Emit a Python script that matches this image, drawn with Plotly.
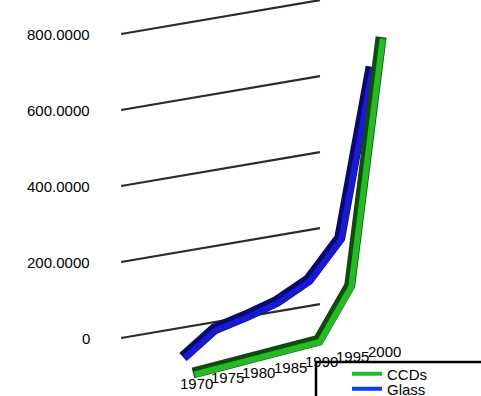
import plotly.graph_objects as go

# ---- data -------------------------------------------------------------
years = [1970, 1975, 1980, 1985, 1990, 1995, 2000]
year_labels = ["1970", "1975", "1980", "1985", "1990", "1995", "2000"]
ccds = [0, 8, 15, 22, 30, 160, 800]
glass = [0, 60, 80, 105, 147, 243, 680]
grid_values = [0, 200, 400, 600, 800]
grid_labels = ["0", "200.0000", "400.0000", "600.0000", "800.0000"]

# ---- oblique 3-D projection onto a year/value plane -------------------
PX_PER_YEAR = 6.27
PX_PER_UNIT = 0.38
YEAR_RISE = 1.066 / PX_PER_UNIT        # value units the floor rises per year
DEPTH_DX = -10 / PX_PER_YEAR           # shift per row of depth (years)
DEPTH_DY = 16 / PX_PER_UNIT            # shift per row of depth (value units)
WALL_DEPTH = 2.67
WALL_SPAN = (1962.8, 1994.5)
BASE_YEAR = 1970


def project(year, value, depth):
    x = year + depth * DEPTH_DX
    y = value + (year - BASE_YEAR) * YEAR_RISE + depth * DEPTH_DY
    return x, y


FONT = "Liberation Sans, Arial, sans-serif"
fig = go.Figure()

# back wall grid lines
gx, gy = [], []
for v in grid_values:
    for yr in WALL_SPAN:
        px, py = project(yr, v, WALL_DEPTH)
        gx.append(px)
        gy.append(py)
    gx.append(None)
    gy.append(None)
fig.add_trace(go.Scatter(x=gx, y=gy, mode="lines", showlegend=False,
                         line=dict(color="#2b2b2b", width=2.2),
                         hoverinfo="skip"))


def add_tube(values, depth, dark, light, legend_color, name, legend_id):
    pts = [project(yr, v, depth) for yr, v in zip(years, values)]
    xs = [p[0] for p in pts]
    ys = [p[1] for p in pts]
    fig.add_trace(go.Scatter(x=xs, y=ys, mode="lines", showlegend=False,
                             line=dict(color=dark, width=11),
                             hoverinfo="skip"))
    # lit side of the tube, nudged toward the lower right
    fig.add_trace(go.Scatter(x=[x + 0.25 for x in xs],
                             y=[y - 4.0 for y in ys],
                             mode="lines", showlegend=False,
                             line=dict(color=light, width=6),
                             hoverinfo="skip"))
    # legend entry
    fig.add_trace(go.Scatter(x=[None], y=[None], mode="lines", name=name,
                             legend=legend_id,
                             line=dict(color=legend_color, width=4)))


add_tube(glass, 1, "#0a0a6e", "#1a1ad2", "#0a3cff", "Glass", "legend2")
add_tube(ccds, 0, "#0f4a0f", "#24bb24", "#1fbf1f", "CCDs", "legend")

# year labels along the front floor edge
annotations = []
for yr, lab in zip(years, year_labels):
    px, py = project(yr, 0, 0)
    annotations.append(dict(x=px, y=py, text=lab, showarrow=False,
                            xanchor="center", yanchor="middle",
                            xshift=3, yshift=-10,
                            font=dict(family=FONT, size=15, color="black")))

# value labels at the left end of each wall line
for v, lab in zip(grid_values, grid_labels):
    px, py = project(WALL_SPAN[0], v, WALL_DEPTH)
    annotations.append(dict(x=px, y=py, text=lab, showarrow=False,
                            xanchor="right", yanchor="middle",
                            xshift=-29, yshift=-1,
                            font=dict(family=FONT, size=15, color="black")))

W, H = 481, 396
x_lo = BASE_YEAR - 193 / PX_PER_YEAR
x_hi = BASE_YEAR + (W - 193) / PX_PER_YEAR
y_lo = (373 - H) / PX_PER_UNIT
y_hi = 373 / PX_PER_UNIT

legend_style = dict(bgcolor="rgba(0,0,0,0)", borderwidth=0,
                    font=dict(family=FONT, size=15, color="black"),
                    xanchor="left", yanchor="middle", itemwidth=30)

fig.update_layout(
    width=W, height=H,
    margin=dict(l=0, r=0, t=0, b=0, autoexpand=False),
    paper_bgcolor="white", plot_bgcolor="white",
    xaxis=dict(range=[x_lo, x_hi], visible=False, fixedrange=True),
    yaxis=dict(range=[y_lo, y_hi], visible=False, fixedrange=True),
    annotations=annotations,
    showlegend=True,
    legend=dict(x=347 / W, y=1 - 374 / H, **legend_style),
    legend2=dict(x=347 / W, y=1 - 389 / H, **legend_style),
    shapes=[dict(type="rect", xref="paper", yref="paper",
                 x0=316 / W, x1=1.2, y0=-0.2, y1=1 - 362 / H,
                 line=dict(color="black", width=2.5),
                 fillcolor="white", layer="above")],
)

fig.write_html("out.html")
